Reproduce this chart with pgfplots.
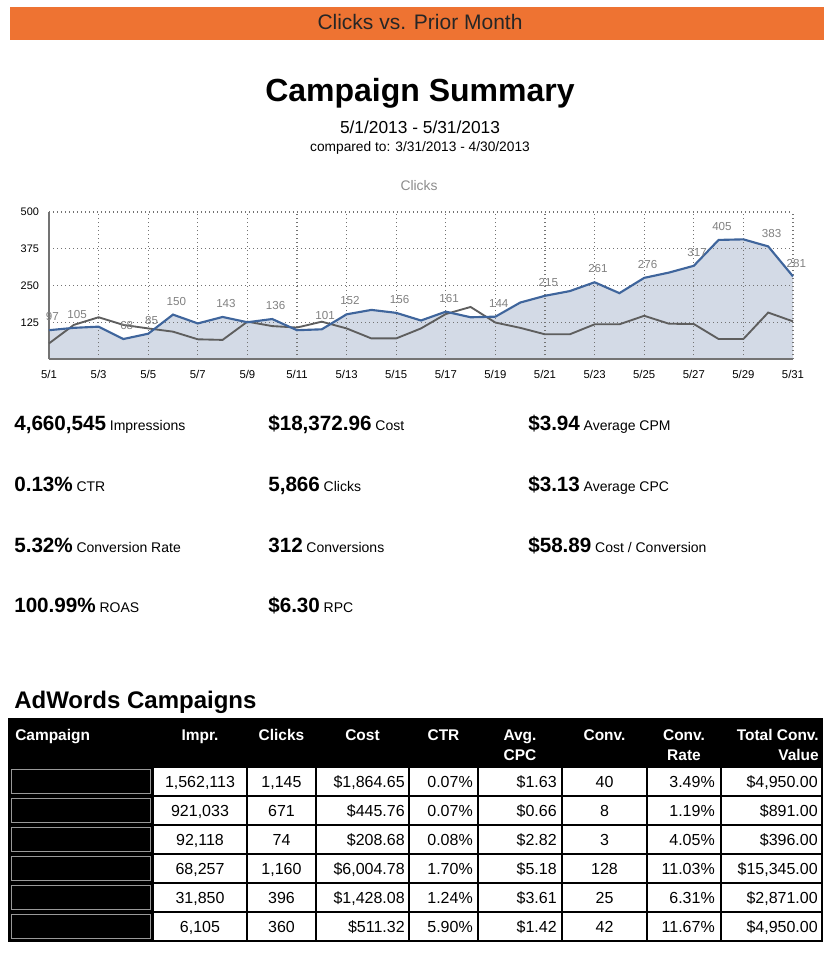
\documentclass[border=0pt]{standalone}
\usepackage{pgfplots}
\pgfplotsset{compat=1.18}
\usepackage{fontspec}
\setmainfont{Liberation Sans}
\definecolor{barorange}{HTML}{EE7332}
\definecolor{fillblue}{HTML}{D3DAE6}
\definecolor{lineblue}{HTML}{3F659C}
\definecolor{linegray}{HTML}{5E5E5E}
\newcommand{\fs}[1]{\fontsize{#1}{#1}\selectfont}
\newcommand{\metric}[4]{\node[anchor=base west, inner sep=0pt] at (#1,#2) {{\fs{15.5}\bfseries #3} {\fs{10.5}#4}};}
\newcommand{\trow}[9]{%
  \fill[black] (9,#1) rectangle (153,#1+29);
  \draw[black!40, line width=0.8pt] (11.5,#1+2.5) rectangle (150.5,#1+26.5);
  \node[anchor=base, inner sep=0pt] at (200,#1+20) {#2};
  \node[anchor=base, inner sep=0pt] at (281.5,#1+20) {#3};
  \node[anchor=base east, inner sep=0pt] at (405,#1+20) {#4};
  \node[anchor=base east, inner sep=0pt] at (473,#1+20) {#5};
  \node[anchor=base east, inner sep=0pt] at (557,#1+20) {#6};
  \node[anchor=base, inner sep=0pt] at (604.5,#1+20) {#7};
  \node[anchor=base east, inner sep=0pt] at (715,#1+20) {#8};
  \node[anchor=base east, inner sep=0pt] at (818,#1+20) {#9};
}
\begin{document}
\begin{tikzpicture}
\begin{scope}[x=0.75pt,y=-0.75pt]
\path[use as bounding box] (0,0) rectangle (824,975);
\fill[barorange] (10,7) rectangle (824,40);
\node[anchor=base, inner sep=0pt, text=black!85] at (420,29) {\fs{15.75}Clicks vs. Prior Month};
\node[anchor=base, inner sep=0pt] at (420,101) {\fs{24}\bfseries Campaign Summary};
\node[anchor=base, inner sep=0pt] at (420,133) {\fs{13}5/1/2013 - 5/31/2013};
\node[anchor=base, inner sep=0pt] at (420,151) {\fs{10.3}compared to: 3/31/2013 - 4/30/2013};
\node[anchor=base, inner sep=0pt, text=black!45] at (419,190) {\fs{10.4}Clicks};
% metrics
\metric{14}{430}{4,660,545}{Impressions}
\metric{268}{430}{\$18,372.96}{Cost}
\metric{528}{430}{\$3.94}{Average CPM}
\metric{14}{491}{0.13\%}{CTR}
\metric{268}{491}{5,866}{Clicks}
\metric{528}{491}{\$3.13}{Average CPC}
\metric{14}{552}{5.32\%}{Conversion Rate}
\metric{268}{552}{312}{Conversions}
\metric{528}{552}{\$58.89}{Cost / Conversion}
\metric{14}{612}{100.99\%}{ROAS}
\metric{268}{612}{\$6.30}{RPC}
\node[anchor=base west, inner sep=0pt] at (14,708) {\fs{18}\bfseries AdWords Campaigns};
% table
\fill[black] (9,719) rectangle (822,767);
\begin{scope}[text=white, font=\fs{11.6}\bfseries]
\node[anchor=base west, inner sep=0pt] at (15,740) {Campaign};
\node[anchor=base, inner sep=0pt] at (200,740) {Impr.};
\node[anchor=base, inner sep=0pt] at (281.5,740) {Clicks};
\node[anchor=base, inner sep=0pt] at (362.5,740) {Cost};
\node[anchor=base, inner sep=0pt] at (443.5,740) {CTR};
\node[anchor=base, inner sep=0pt] at (520,740) {Avg.};
\node[anchor=base, inner sep=0pt] at (520,760) {CPC};
\node[anchor=base, inner sep=0pt] at (604.5,740) {Conv.};
\node[anchor=base, inner sep=0pt] at (684,740) {Conv.};
\node[anchor=base, inner sep=0pt] at (684,760) {Rate};
\node[anchor=base east, inner sep=0pt] at (819,740) {Total Conv.};
\node[anchor=base east, inner sep=0pt] at (819,760) {Value};
\end{scope}
\begin{scope}[font=\fs{12}]
\trow{767}{1,562,113}{1,145}{\$1,864.65}{0.07\%}{\$1.63}{40}{3.49\%}{\$4,950.00}
\trow{796}{921,033}{671}{\$445.76}{0.07\%}{\$0.66}{8}{1.19\%}{\$891.00}
\trow{825}{92,118}{74}{\$208.68}{0.08\%}{\$2.82}{3}{4.05\%}{\$396.00}
\trow{854}{68,257}{1,160}{\$6,004.78}{1.70\%}{\$5.18}{128}{11.03\%}{\$15,345.00}
\trow{883}{31,850}{396}{\$1,428.08}{1.24\%}{\$3.61}{25}{6.31\%}{\$2,871.00}
\trow{912}{6,105}{360}{\$511.32}{5.90\%}{\$1.42}{42}{11.67\%}{\$4,950.00}
\end{scope}
\begin{scope}[line width=1.1pt]
\foreach \yy in {767,796,825,854,883,912} \draw (9,\yy) -- (822,\yy);
\foreach \xx in {153,247,316,409,478,562,647,721} \draw (\xx,767) -- (\xx,941);
\draw (9,719) rectangle (822,941);
\end{scope}
\end{scope}
\begin{axis}[
  at={(36.75pt,-269.25pt)}, anchor=south west,
  scale only axis, width=558pt, height=110.25pt,
  xmin=1, xmax=31, ymin=0, ymax=500,
  axis x line=bottom, axis y line=left,
  axis line style={-, draw=black!55, line width=1.1pt},
  xtick={1,3,...,31},
  xticklabels={5/1,5/3,5/5,5/7,5/9,5/11,5/13,5/15,5/17,5/19,5/21,5/23,5/25,5/27,5/29,5/31},
  ytick={125,250,375,500},
  yticklabels={125,250,375,500},
  major tick length=0pt,
  grid=major,
  major grid style={black!55, line width=1pt, dash pattern=on 1pt off 2pt},
  tick label style={text=black},
  xticklabel style={font=\fs{8.5}, yshift=-5pt},
  yticklabel style={font=\fs{8.2}, xshift=-4pt},
  set layers,
  clip=false,
]
\addplot[fill=fillblue, draw=none, on layer=axis background] coordinates {
(1,98)(2,106)(3,110)(4,68)(5,86)(6,151)(7,121)(8,143)(9,125)(10,136)(11,98)(12,101)(13,152)(14,167)(15,157)(16,131)(17,161)(18,142)(19,144)(20,192)(21,215)(22,231)(23,261)(24,224)(25,276)(26,294)(27,317)(28,405)(29,407)(30,383)(31,281)} \closedcycle;
\addplot[linegray, line width=1.4pt] coordinates {
(1,53)(2,116)(3,142)(4,116)(5,104)(6,93)(7,67)(8,65)(9,127)(10,112)(11,107)(12,127)(13,104)(14,70)(15,70)(16,104)(17,153)(18,177)(19,124)(20,106)(21,84)(22,84)(23,118)(24,118)(25,147)(26,120)(27,119)(28,68)(29,68)(30,158)(31,128)};
\addplot[lineblue, line width=1.6pt] coordinates {
(1,98)(2,106)(3,110)(4,68)(5,86)(6,151)(7,121)(8,143)(9,125)(10,136)(11,98)(12,101)(13,152)(14,167)(15,157)(16,131)(17,161)(18,142)(19,144)(20,192)(21,215)(22,231)(23,261)(24,224)(25,276)(26,294)(27,317)(28,405)(29,407)(30,383)(31,281)};
\addplot[draw=none, nodes near coords, point meta=explicit symbolic,
  nodes near coords style={font=\fs{8.7}, text=black!50, anchor=base, inner sep=0pt, xshift=2.5pt, yshift=7pt}]
  coordinates {(1,98)[97] (2,106)[105] (4,68)[68] (5,86)[85] (6,151)[150] (8,143)[143] (10,136)[136] (12,101)[101] (13,152)[152] (15,157)[156] (17,161)[161] (19,144)[144] (21,215)[215] (23,261)[261] (25,276)[276] (27,317)[317] (28,405)[405] (30,383)[383] (31,281)[281]};
\end{axis}
\end{tikzpicture}
\end{document}
